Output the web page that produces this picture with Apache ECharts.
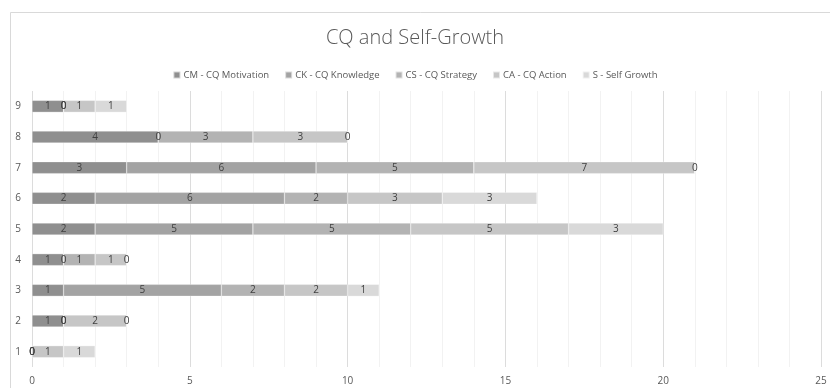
<!DOCTYPE html>
<html>
<head>
<meta charset="utf-8">
<style>
  html, body { margin: 0; padding: 0; background: #ffffff; }
  #chart { width: 830px; height: 388px; }
</style>
<script src="https://cdn.jsdelivr.net/npm/echarts@6/dist/echarts.min.js"></script>
</head>
<body>
<div id="chart"></div>
<script>
// Respondent groups shown on the category axis, bottom to top
const categories = ['1', '2', '3', '4', '5', '6', '7', '8', '9'];

// Stacked component scores per group
const cqMotivation = [0, 1, 1, 1, 2, 2, 3, 4, 1];
const cqKnowledge  = [0, 0, 5, 0, 5, 6, 6, 0, 0];
const cqStrategy   = [0, 0, 2, 1, 5, 2, 5, 3, 0];
const cqAction     = [1, 2, 2, 1, 5, 3, 7, 3, 1];
const selfGrowth   = [1, 0, 1, 0, 3, 3, 0, 0, 1];

const seriesNames = [
  'CM - CQ Motivation',
  'CK - CQ Knowledge',
  'CS - CQ Strategy',
  'CA - CQ Action',
  'S - Self Growth'
];
const seriesValues = [cqMotivation, cqKnowledge, cqStrategy, cqAction, selfGrowth];
const seriesColors = ['#8f8f8f', '#a3a3a3', '#b3b3b3', '#c6c6c6', '#d9d9d9'];

const fontFamily = '"Open Sans", "Liberation Sans", sans-serif';

const chart = echarts.init(document.getElementById('chart'), null, { renderer: 'canvas' });

chart.setOption({
  backgroundColor: '#ffffff',
  animation: false,
  graphic: [{
    type: 'rect',
    shape: { x: 10.5, y: 12.5, width: 830, height: 400 },
    style: { fill: 'none', stroke: '#d9d9d9', lineWidth: 1 },
    silent: true,
    z: -10
  }],
  title: {
    text: 'CQ and Self-Growth',
    left: 'center',
    top: 23,
    textStyle: { fontFamily: fontFamily, fontSize: 20, fontWeight: 300, color: '#595959' }
  },
  legend: {
    top: 65,
    left: 'center',
    itemWidth: 7,
    itemHeight: 7,
    itemGap: 15,
    icon: 'rect',
    textStyle: { fontFamily: fontFamily, fontSize: 9.5, color: '#595959', padding: [0, 0, 0, -2] },
    data: seriesNames
  },
  grid: { left: 32, right: 9, top: 91, bottom: 21, containLabel: false },
  xAxis: {
    type: 'value',
    min: 0,
    max: 25,
    interval: 1,
    axisLine: { show: false },
    axisTick: { show: false },
    axisLabel: {
      fontFamily: fontFamily,
      fontSize: 10,
      color: '#595959',
      margin: 9,
      formatter: v => (v % 5 === 0 ? String(v) : '')
    },
    splitLine: {
      lineStyle: { color: ['#dcdcdc', '#f2f2f2', '#f2f2f2', '#f2f2f2', '#f2f2f2'], width: 1 }
    }
  },
  yAxis: {
    type: 'category',
    data: categories,
    axisLine: { show: false },
    axisTick: { show: false },
    axisLabel: { fontFamily: fontFamily, fontSize: 10, color: '#595959', margin: 11 }
  },
  series: seriesNames.map((name, i) => ({
    name: name,
    type: 'bar',
    stack: 'total',
    barWidth: 12,
    data: seriesValues[i],
    itemStyle: { color: seriesColors[i], borderColor: 'rgba(255,255,255,0.6)', borderWidth: 0.5 },
    label: {
      show: true,
      position: 'inside',
      fontFamily: fontFamily,
      fontSize: 10,
      color: '#404040',
      formatter: p => String(p.value)
    }
  }))
});
</script>
</body>
</html>
